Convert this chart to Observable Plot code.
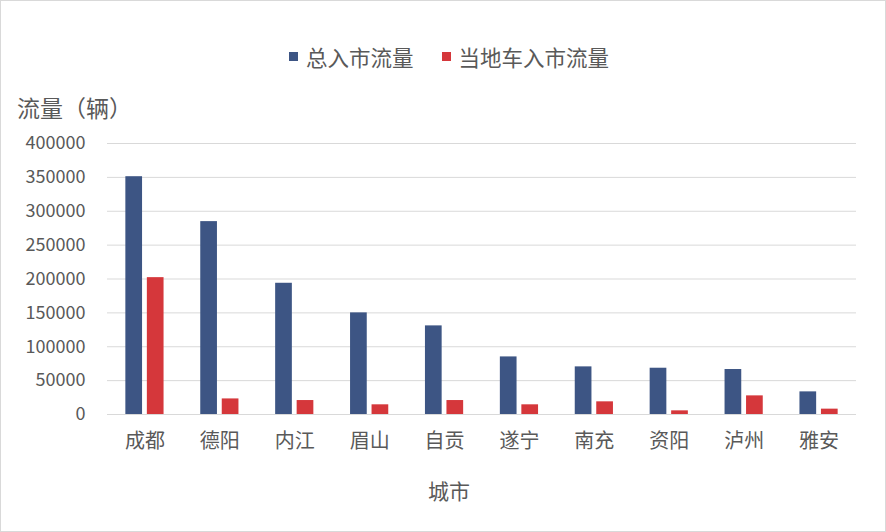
<!DOCTYPE html>
<html><head><meta charset="utf-8">
<script src="https://cdn.jsdelivr.net/npm/d3@7"></script>
<script src="https://cdn.jsdelivr.net/npm/@observablehq/plot@0.6"></script>
<style>
body{margin:0;background:#fff;}
#wrap{position:relative;width:886px;height:532px;font-family:"Noto Sans CJK SC","Noto Sans",sans-serif;color:#595959;overflow:hidden;}
#wrap svg{position:absolute;left:0;top:0;}
.frame{position:absolute;left:0;top:0;width:884px;height:530px;border:1px solid #D9D9D9;pointer-events:none;}
.legend{position:absolute;top:41px;left:289px;font-size:21.5px;display:flex;align-items:center;white-space:nowrap;}
.sw{display:inline-block;width:9px;height:9px;margin-right:8px;}
.item{display:flex;align-items:center;margin-right:28px;}
.ytitle{position:absolute;left:17px;top:90px;font-size:23px;white-space:nowrap;}
.xtitle{position:absolute;left:0;width:898px;text-align:center;top:475px;font-size:21px;}
</style></head>
<body>
<div id="wrap">
  <div class="frame"></div>
</div>
<script>
const cities = ["成都","德阳","内江","眉山","自贡","遂宁","南充","资阳","泸州","雅安"];
const seriesNames = ["总入市流量","当地车入市流量"];
const totalFlow = [351000,284700,193700,150000,130800,85000,70300,68300,66400,33400];
const localFlow = [202000,23000,20600,14300,20600,14300,18700,5400,27500,7900];
const yTicks = [0,50000,100000,150000,200000,250000,300000,350000,400000];
const colors = ["#3D5584","#D5373B"];

const totalRows = cities.map((c,i)=>({city:c, value:totalFlow[i]}));
const localRows = cities.map((c,i)=>({city:c, value:localFlow[i]}));

const chart = Plot.plot({
  width: 886,
  height: 532,
  marginLeft: 107,
  marginRight: 30,
  marginTop: 143,
  marginBottom: 118,
  style: {fontFamily:'"Noto Sans CJK SC","Noto Sans",sans-serif', color:"#595959", background:"transparent"},
  x: {domain: cities, paddingInner: 0.49, paddingOuter: 0.245, round: false, label: null},
  y: {domain: [0,400000], label: null},
  marks: [
    Plot.gridY(yTicks, {stroke:"#D9D9D9", strokeOpacity:1}),
    Plot.axisY(yTicks, {tickSize:0, tickPadding:22, fontSize:18, tickFormat: d3.format("d"), label:null}),
    Plot.axisX({anchor:"bottom", tickSize:0, tickPadding:19, fontSize:20, label:null}),
    Plot.barY(totalRows, {x:"city", y:"value", fill:colors[0], insetRight:21.5}),
    Plot.barY(localRows, {x:"city", y:"value", fill:colors[1], insetLeft:21.5}),
    Plot.ruleY([0], {stroke:"#D9D9D9"})
  ]
});
const wrap = document.getElementById("wrap");
wrap.insertBefore(chart, wrap.firstChild);

const leg = document.createElement("div");
leg.className = "legend";
seriesNames.forEach((s,i)=>{
  const it = document.createElement("span");
  it.className = "item";
  const sw = document.createElement("span");
  sw.className = "sw"; sw.style.background = colors[i];
  it.appendChild(sw);
  it.appendChild(document.createTextNode(s));
  leg.appendChild(it);
});
wrap.appendChild(leg);

const yt = document.createElement("div");
yt.className = "ytitle"; yt.textContent = "流量（辆）";
wrap.appendChild(yt);
const xt = document.createElement("div");
xt.className = "xtitle"; xt.textContent = "城市";
wrap.appendChild(xt);
</script>
</body></html>
